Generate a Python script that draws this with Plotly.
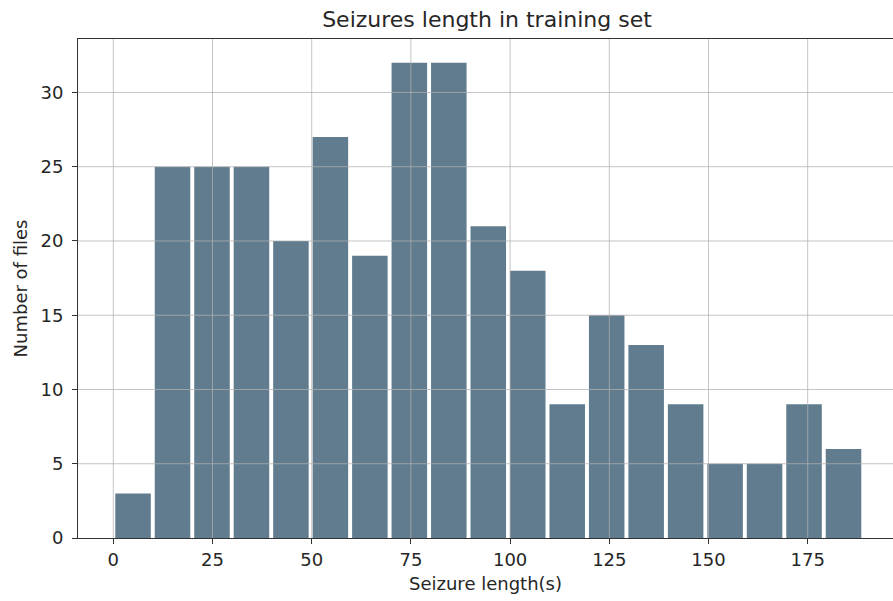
import numpy as np
import plotly.graph_objects as go

# Histogram of seizure durations: 19 equal-width bins over [bin_start, bin_end]
bin_start = 0.0
bin_end = 189.0
counts = [3, 25, 25, 25, 20, 27, 19, 32, 32, 21, 18, 9, 15, 13, 9, 5, 5, 9, 6]

x_ticks = [0, 25, 50, 75, 100, 125, 150, 175]
y_ticks = [0, 5, 10, 15, 20, 25, 30]

title_text = "Seizures length in training set"
x_label = "Seizure length(s)"
y_label = "Number of files"

edges = np.linspace(bin_start, bin_end, len(counts) + 1)
centers = (edges[:-1] + edges[1:]) / 2
bin_width = edges[1] - edges[0]

FONT = "DejaVu Sans"
TEXT = "#262626"
SPINE = "#333333"
GRID = "rgba(176,176,176,0.75)"

fig = go.Figure(
    go.Bar(
        x=centers,
        y=counts,
        width=0.9 * bin_width,
        marker=dict(color="#607c8e", line=dict(width=0)),
        hoverinfo="x+y",
    )
)

# grid lines sit on top of the bars
shapes = []
for t in x_ticks:
    shapes.append(dict(type="line", xref="x", yref="paper", x0=t, x1=t, y0=0, y1=1,
                       line=dict(color=GRID, width=1), layer="above"))
for t in y_ticks[1:]:
    shapes.append(dict(type="line", xref="paper", yref="y", x0=0, x1=1, y0=t, y1=t,
                       line=dict(color=GRID, width=1), layer="above"))

fig.update_layout(
    width=893,
    height=601,
    margin=dict(l=78, r=0, t=39, b=63),
    paper_bgcolor="white",
    plot_bgcolor="white",
    showlegend=False,
    shapes=shapes,
    font=dict(family=FONT, size=18, color=TEXT),
    title=dict(
        text=title_text,
        font=dict(family=FONT, size=22, color=TEXT),
        xref="container", x=487 / 893, xanchor="center",
        yref="container", y=1 - 19 / 601, yanchor="middle",
    ),
    xaxis=dict(
        range=[-8.9, 196.5],
        tickvals=x_ticks,
        ticktext=[str(t) for t in x_ticks],
        ticks="outside", ticklen=5, tickwidth=1, tickcolor=SPINE,
        showline=True, linecolor=SPINE, linewidth=1, mirror=True,
        showgrid=False, zeroline=False,
        tickfont=dict(family=FONT, size=18, color=TEXT),
        title=dict(text=x_label, standoff=8, font=dict(family=FONT, size=18, color=TEXT)),
    ),
    yaxis=dict(
        range=[0, 33.6],
        tickvals=y_ticks,
        ticktext=[str(t) for t in y_ticks],
        ticks="outside", ticklen=5, tickwidth=1, tickcolor=SPINE,
        ticklabelstandoff=5,
        showline=True, linecolor=SPINE, linewidth=1, mirror=False,
        showgrid=False, zeroline=False,
        tickfont=dict(family=FONT, size=18, color=TEXT),
        title=dict(text=y_label, standoff=8, font=dict(family=FONT, size=18, color=TEXT)),
    ),
)

fig.write_html("out.html")
